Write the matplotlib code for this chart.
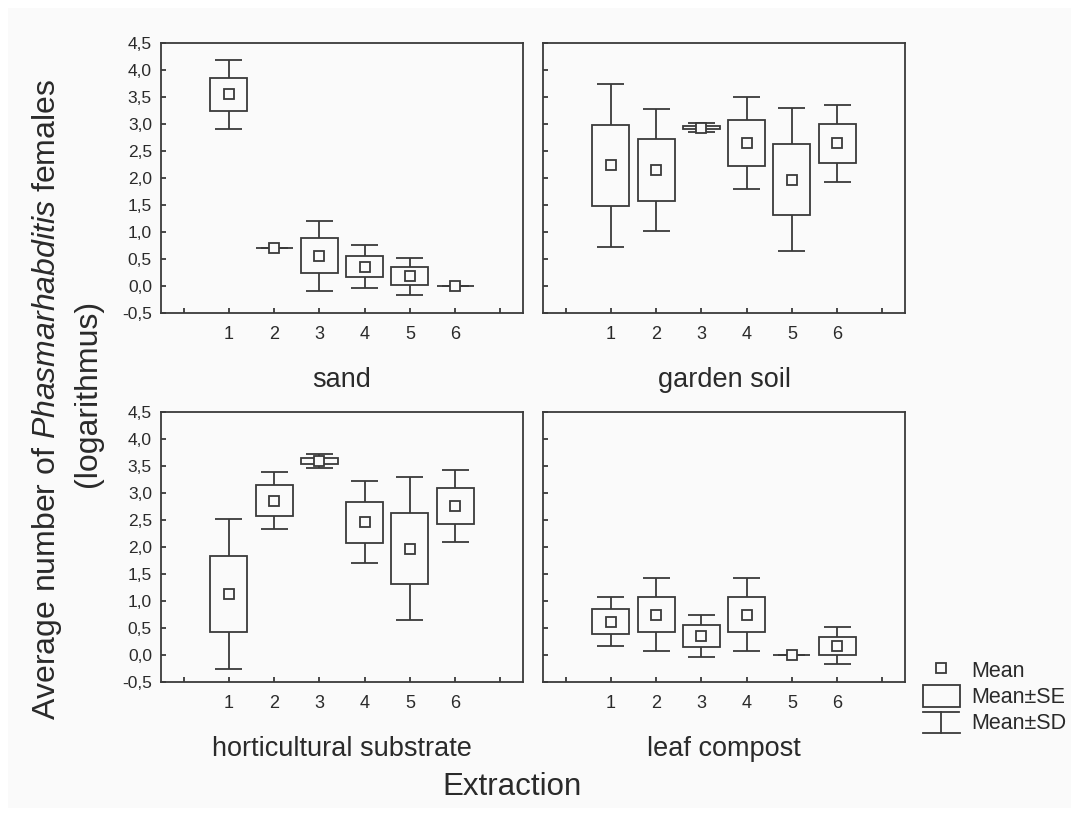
import numpy as np
import matplotlib
matplotlib.use('Agg')
import matplotlib.pyplot as plt
from matplotlib.patches import Rectangle

plt.rcParams['font.family'] = ['Liberation Sans', 'DejaVu Sans']
plt.rcParams['mathtext.fontset'] = 'custom'
plt.rcParams['mathtext.rm'] = 'Liberation Sans'
plt.rcParams['mathtext.it'] = 'Liberation Sans:italic'

extraction = [1, 2, 3, 4, 5, 6]
substrates = ['sand', 'garden soil', 'horticultural substrate', 'leaf compost']
yticks = [-0.5, 0.0, 0.5, 1.0, 1.5, 2.0, 2.5, 3.0, 3.5, 4.0, 4.5]

# mean, SE and SD of log numbers
sand_mean = [3.55, 0.70, 0.56, 0.36, 0.18, 0.00]
sand_se = [0.31, 0.00, 0.32, 0.20, 0.17, 0.00]
sand_sd = [0.64, 0.00, 0.65, 0.40, 0.34, 0.00]

garden_mean = [2.235, 2.145, 2.93, 2.65, 1.97, 2.64]
garden_se = [0.755, 0.575, 0.03, 0.42, 0.66, 0.355]
garden_sd = [1.515, 1.125, 0.085, 0.85, 1.325, 0.71]

hort_mean = [1.13, 2.86, 3.59, 2.46, 1.97, 2.76]
hort_se = [0.70, 0.28, 0.06, 0.38, 0.655, 0.33]
hort_sd = [1.38, 0.535, 0.125, 0.76, 1.325, 0.66]

leaf_mean = [0.62, 0.75, 0.35, 0.75, 0.00, 0.17]
leaf_se = [0.23, 0.33, 0.20, 0.33, 0.00, 0.17]
leaf_sd = [0.45, 0.67, 0.39, 0.67, 0.00, 0.34]

BG = '#fafafa'
LINE = '#3a3a3a'
TEXT = '#2a2a2a'
LW = 1.3
W, H = 1079, 816

fig = plt.figure(figsize=(W / 100, H / 100), dpi=100)
fig.patch.set_facecolor('white')
fig.add_artist(Rectangle((8 / W, 8 / H), 1 - 16 / W, 1 - 16 / H, transform=fig.transFigure,
                         facecolor=BG, edgecolor='none', zorder=-10))


def draw_panel(ax, mean, se, sd, show_labels):
    x = np.array(extraction)
    mean = np.array(mean)
    se = np.array(se)
    sd = np.array(sd)
    ax.bar(x, 2 * se, bottom=mean - se, width=0.82, facecolor='none',
           edgecolor=LINE, linewidth=LW, zorder=2)
    ax.vlines(x, mean + se, mean + sd, color=LINE, lw=LW, zorder=2)
    ax.vlines(x, mean - sd, mean - se, color=LINE, lw=LW, zorder=2)
    ax.hlines(mean + sd, x - 0.3, x + 0.3, color=LINE, lw=LW, zorder=2)
    ax.hlines(mean - sd, x - 0.3, x + 0.3, color=LINE, lw=LW, zorder=2)
    ax.plot(x, mean, 's', ms=7, mfc=BG, mec=LINE, mew=LW, zorder=3)

    ax.set_facecolor(BG)
    ax.set_xlim(-0.5, 7.5)
    ax.set_ylim(-0.5, 4.5)
    ax.set_xticks(range(8))
    ax.set_xticklabels([''] + [str(e) for e in extraction] + [''])
    ax.set_yticks(yticks)
    if show_labels:
        ax.set_yticklabels([('%.1f' % v).replace('.', ',') for v in yticks])
    else:
        ax.set_yticklabels([])
    ax.tick_params(direction='in', length=3.6, width=LW, color=LINE,
                   labelcolor=TEXT)
    ax.tick_params(axis='x', pad=9.5, labelsize=13)
    ax.tick_params(axis='y', pad=6.5, labelsize=12.5)
    for s in ax.spines.values():
        s.set_color(LINE)
        s.set_linewidth(LW)


data = [(sand_mean, sand_se, sand_sd), (garden_mean, garden_se, garden_sd),
        (hort_mean, hort_se, hort_sd), (leaf_mean, leaf_se, leaf_sd)]
lefts = [161, 543, 161, 543]
bottoms = [313, 313, 682, 682]
title_base = [387, 387, 756, 756]
for i, (m, se, sd) in enumerate(data):
    ax = fig.add_axes([lefts[i] / W, 1 - bottoms[i] / H, 362 / W, 270 / H])
    draw_panel(ax, m, se, sd, i % 2 == 0)
    fig.text((lefts[i] + 181) / W, 1 - title_base[i] / H, substrates[i],
             ha='center', va='baseline', fontsize=19.5, color=TEXT)

fig.text(512 / W, 1 - 795 / H, 'Extraction', ha='center', va='baseline',
         fontsize=22.5, color=TEXT)
fig.text(55 / W, 1 - 399 / H, r'Average number of $\mathit{Phasmarhabditis}$ females',
         ha='center', va='baseline', rotation=90, rotation_mode='anchor',
         fontsize=23, color=TEXT)
fig.text(96 / W, 1 - 393 / H, '(logarithmus)', ha='center', va='baseline',
         rotation=90, rotation_mode='anchor', fontsize=23, color=TEXT)

# legend drawn in pixel units
lg = fig.add_axes([910 / W, 1 - 745 / H, 165 / W, 95 / H])
lg.set_xlim(910, 1075)
lg.set_ylim(745, 650)
lg.axis('off')
lg.plot([941], [668], 's', ms=7, mfc=BG, mec=LINE, mew=LW)
lg.add_patch(Rectangle((923, 685), 37, 22, facecolor='none', edgecolor=LINE, lw=LW))
lg.plot([923, 959], [712, 712], color=LINE, lw=LW)
lg.plot([941, 941], [712, 733], color=LINE, lw=LW)
lg.plot([923, 960], [733, 733], color=LINE, lw=LW)
for lab, yb in zip(['Mean', 'Mean±SE', 'Mean±SD'], [677, 703, 729]):
    lg.text(971, yb, lab, ha='left', va='baseline', fontsize=15.5, color=TEXT)

fig.savefig('out.png', dpi=100, facecolor=fig.get_facecolor())
